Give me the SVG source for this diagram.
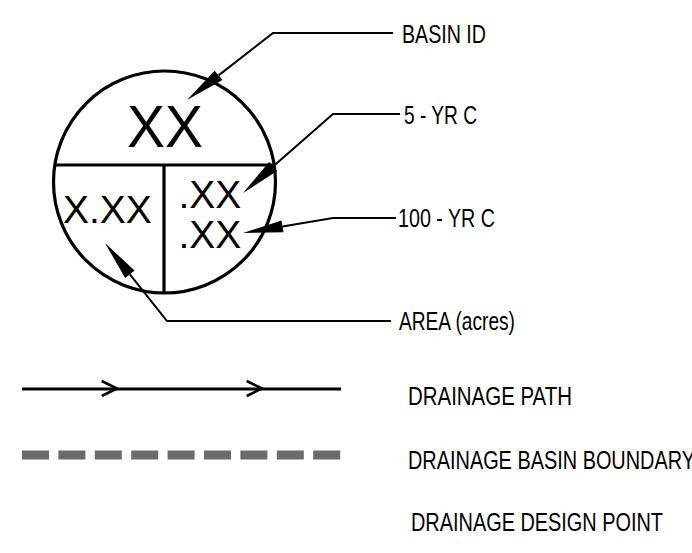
<svg xmlns="http://www.w3.org/2000/svg" width="692" height="553" viewBox="0 0 692 553">
<style>
  .lbl { font-family: "Liberation Sans", Arial, sans-serif; font-size: 25px; fill: #000; }
  .big { font-family: "Liberation Sans", Arial, sans-serif; fill: #000; }
  .sym { fill: none; stroke: #000; stroke-width: 3.2; }
  .lead { fill: none; stroke: #000; stroke-width: 2; stroke-linejoin: miter; }
  .head { fill: #000; stroke: none; }
</style>
<rect width="692" height="553" fill="#fff"/>

<g id="basin-symbol">
  <circle cx="164.5" cy="182" r="111" class="sym" stroke-width="3.6"/>
  <line x1="54.8" y1="165" x2="274.2" y2="165" class="sym" stroke-width="3"/>
  <line x1="164" y1="165" x2="164" y2="293" class="sym" stroke-width="3"/>
  <text x="127" y="147" class="big" font-size="60" textLength="76" lengthAdjust="spacingAndGlyphs">XX</text>
  <text x="63" y="223" class="big" font-size="39">X.XX</text>
  <text x="178.5" y="208" class="big" font-size="39">.XX</text>
  <text x="178.5" y="248" class="big" font-size="39">.XX</text>
</g>

<g id="connectors">
  <polyline class="lead" points="393,33 273,33 218.56,75.41"/>
  <polygon class="head" points="187,100 222.5,80.1 214.6,70.7"/>
  <polyline class="lead" points="400,114 333,114 273.06,166.61"/>
  <polygon class="head" points="243,193 277.02,171.12 269.10,162.10"/>
  <polyline class="lead" points="396,218 333,218 282.46,226.42"/>
  <polygon class="head" points="243,233 283.45,232.34 281.47,220.50"/>
  <polyline class="lead" points="391,321 167,321 129.89,274.31"/>
  <polygon class="head" points="105,243 134.59,270.58 125.19,278.04"/>
</g>

<g id="label-basin-id">
  <text x="402" y="43" class="lbl" textLength="84" lengthAdjust="spacingAndGlyphs">BASIN ID</text>
</g>
<g id="label-5yr">
  <text x="404" y="124" class="lbl" textLength="73" lengthAdjust="spacingAndGlyphs">5 - YR C</text>
</g>
<g id="label-100yr">
  <text x="398" y="227" class="lbl" textLength="97" lengthAdjust="spacingAndGlyphs">100 - YR C</text>
</g>
<g id="label-area">
  <text x="399" y="330" class="lbl" textLength="116" lengthAdjust="spacingAndGlyphs">AREA (acres)</text>
</g>

<g id="legend-drainage-path">
  <line x1="22" y1="389" x2="341" y2="389" stroke="#000" stroke-width="3"/>
  <polyline points="101.7,381 117,388.5 101.7,396" fill="none" stroke="#000" stroke-width="2.6"/>
  <polyline points="246.7,381 262,388.5 246.7,396" fill="none" stroke="#000" stroke-width="2.6"/>
  <text x="408" y="405" class="lbl" textLength="164" lengthAdjust="spacingAndGlyphs">DRAINAGE PATH</text>
</g>

<g id="legend-basin-boundary">
  <line x1="22" y1="455" x2="341" y2="455" stroke="#6b6b6b" stroke-width="9" stroke-dasharray="27 9.4"/>
  <text x="408" y="469" class="lbl" textLength="287" lengthAdjust="spacingAndGlyphs">DRAINAGE BASIN BOUNDARY</text>
</g>

<g id="legend-design-point">
  <text x="411" y="531" class="lbl" textLength="252" lengthAdjust="spacingAndGlyphs">DRAINAGE DESIGN POINT</text>
</g>
</svg>
